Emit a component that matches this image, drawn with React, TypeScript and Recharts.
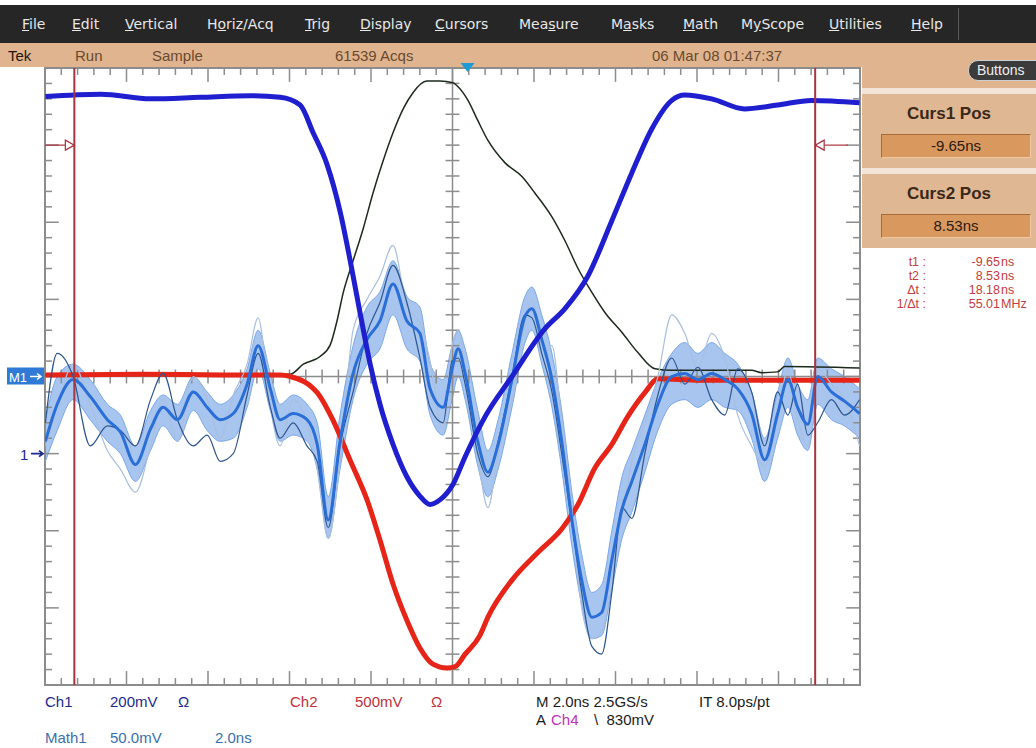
import React from 'react';
import {
  ComposedChart,
  Line,
  Area,
  XAxis,
  YAxis,
  CartesianGrid,
  ReferenceLine,
  ReferenceArea,
  ReferenceDot,
} from 'recharts';

// horizontal: 2 ns/div over 10 div, vertical: 8 div
const T_START = -10.37;
const T_END = 9.63;
const NS_PER_DIV = 2;
const DIVS_Y = 4;

const ch1Scale = 200; // mV/div
const ch1Pos = -1; // div
const ch2Scale = 500;
const ch2Pos = 0;
const mathScale = 50;
const mathPos = 0;

const cursor1 = -9.65;
const cursor2 = 8.53;
const triggerTime = 0;
const cursorMarkLevel = 3; // div

// Ch1 (blue)
const ch1Time = [-10.36, -9.0, -7.78, -6.56, -5.33, -4.6, -4.11, -3.79, -3.45, -3.12, -2.88, -2.64, -2.39, -2.15, -1.83, -1.49, -1.17, -0.92, -0.68, -0.36, -0.06, 0.43, 1.09, 1.9, 2.39, 2.95, 3.54, 4.03, 4.52, 5.01, 5.33, 5.99, 6.8, 7.61, 8.44, 9.62];
const ch1mV = [926, 932, 920, 924, 928, 924, 904, 832, 750, 624, 500, 366, 232, 128, 24, -60, -110, -132, -120, -80, -8, 96, 200, 324, 376, 460, 604, 728, 842, 916, 930, 920, 894, 904, 916, 910];

// Ch2 (red)
const ch2Time = [-10.36, -8.0, -6.0, -4.6, -4.35, -3.69, -3.3, -2.88, -2.46, -2.15, -1.83, -1.49, -1.17, -0.85, -0.51, -0.3, -0.06, 0.3, 0.5, 1.09, 1.73, 2.32, 2.71, 3.12, 3.54, 3.93, 4.35, 4.67, 5.7, 7.5, 9.62];
const ch2mV = [10, 15, 10, 10, 0, -105, -285, -545, -805, -1060, -1345, -1580, -1760, -1865, -1890, -1880, -1800, -1680, -1560, -1320, -1140, -985, -830, -595, -440, -260, -105, -15, -25, -25, -25];

// reference trace (black), in divisions
const refTime = [-10.36, -6.56, -4.35, -4.03, -3.62, -3.37, -3.2, -3.05, -2.81, -2.56, -2.32, -2.07, -1.83, -1.58, -1.34, -1.0, -0.68, -0.36, -0.24, 0.01, 0.25, 0.5, 0.92, 1.34, 1.65, 2.07, 2.39, 2.71, 3.05, 3.37, 3.79, 4.18, 4.6, 5.01, 6.97, 7.22, 7.61, 7.78, 9.62];
const refDiv = [0.02, 0.02, 0.03, 0.16, 0.26, 0.41, 0.73, 1.09, 1.5, 1.92, 2.38, 2.8, 3.16, 3.47, 3.68, 3.83, 3.83, 3.81, 3.76, 3.58, 3.32, 3.06, 2.77, 2.59, 2.38, 2.07, 1.76, 1.4, 1.09, 0.83, 0.57, 0.31, 0.1, 0.08, 0.08, 0.05, 0.06, 0.13, 0.11];

// Math1 persistence (mV)
const mathTime = [-10.36, -10.07, -9.68, -9.26, -8.84, -8.52, -8.15, -7.78, -7.47, -7.12, -6.73, -6.39, -6.07, -5.75, -5.41, -5.14, -4.84, -4.6, -4.28, -3.94, -3.69, -3.42, -3.13, -2.81, -2.47, -2.15, -1.83, -1.49, -1.17, -0.92, -0.6, -0.38, -0.23, -0.06, 0.25, 0.5, 0.75, 1.09, 1.41, 1.58, 1.82, 2.07, 2.31, 2.56, 2.8, 3.05, 3.29, 3.54, 3.79, 4.03, 4.35, 4.67, 5.01, 5.33, 5.65, 5.99, 6.31, 6.63, 6.97, 7.29, 7.61, 7.86, 8.1, 8.35, 8.59, 8.93, 9.25, 9.62];
const mathCore = [-42, -18, -2, -13, -28, -36, -57, -34, -20, -28, -10, -20, -28, -24, -5, 20, -8, -28, -24, -28, -44, -93, -42, 2, 24, 36, 60, 36, 28, -8, -20, 5, 18, 2, -42, -62, -44, -2, 39, 44, 24, -2, -42, -93, -132, -156, -153, -119, -86, -68, -44, -18, 0, 2, -2, 2, -2, -8, -24, -54, -24, -2, -20, -31, 0, -10, -16, -24];
const mathLo = [-55, -35, -15, -28, -42, -50, -68, -48, -32, -42, -22, -35, -42, -40, -20, 5, -22, -42, -38, -42, -60, -105, -60, -15, 8, 18, 40, 18, 10, -25, -38, -15, 0, -15, -58, -78, -60, -20, 22, 30, 8, -20, -60, -110, -148, -170, -168, -138, -105, -88, -62, -35, -18, -15, -20, -15, -20, -22, -40, -68, -40, -20, -38, -48, -18, -28, -32, -40];
const mathHi = [-28, 0, 8, -2, -18, -25, -45, -22, -12, -18, 0, -10, -18, -12, 5, 30, 2, -18, -12, -18, -30, -78, -25, 20, 45, 55, 75, 52, 45, 8, -2, 20, 30, 18, -22, -48, -28, 15, 52, 58, 40, 15, -22, -75, -115, -140, -135, -100, -65, -48, -25, -2, 15, 22, 15, 22, 15, 8, -10, -40, -10, 12, -5, -15, 12, 5, 0, -8];
const mathDark = [-30, 15, 0, -45, -32, -35, -45, -15, 2, -28, -45, -38, -55, -50, -12, 15, -20, -40, -30, -45, -55, -98, -45, -10, 28, 48, 72, 48, 12, -20, -30, 10, 12, -5, -50, -65, -42, 0, 40, 38, 15, -10, -50, -95, -140, -175, -180, -140, -85, -92, -50, -12, 12, -5, 6, -15, -25, 5, -10, -45, -10, -25, -5, -38, -30, -15, -25, -15];
const mathLight = [-45, -20, 8, -18, -48, -60, -75, -45, -15, -42, 0, -15, -40, -12, 8, 38, -20, -45, -15, -30, -60, -105, -55, 30, 50, 65, 85, 45, 35, 10, -35, 20, 30, 5, -52, -85, -50, -15, 35, 50, 12, 20, -30, -85, -150, -170, -165, -130, -90, -55, -30, 0, 40, 28, 5, 28, 12, -25, -45, -58, -28, 5, -28, -45, 5, -5, -15, -45];

const toDiv = (mv: number, scale: number, pos: number) => mv / scale + pos;

const ch1Rows = ch1Time.map((t, i) => ({ t, v: toDiv(ch1mV[i], ch1Scale, ch1Pos) }));
const ch2Rows = ch2Time.map((t, i) => ({ t, v: toDiv(ch2mV[i], ch2Scale, ch2Pos) }));
const refRows = refTime.map((t, i) => ({ t, v: refDiv[i] }));
const mathRows = mathTime.map((t, i) => ({
  t,
  core: toDiv(mathCore[i], mathScale, mathPos),
  band: [toDiv(mathLo[i], mathScale, mathPos), toDiv(mathHi[i], mathScale, mathPos)],
  dark: toDiv(mathDark[i], mathScale, mathPos),
  light: toDiv(mathLight[i], mathScale, mathPos),
}));

// graticule
const T_MID = (T_START + T_END) / 2;
const divX = Array.from({ length: 11 }, (_, i) => T_START + i * NS_PER_DIV);
const divY = Array.from({ length: 2 * DIVS_Y + 1 }, (_, i) => -DIVS_Y + i);
const minorX = Array.from({ length: 51 }, (_, i) => T_START + (i * NS_PER_DIV) / 5);
const minorY = Array.from({ length: 41 }, (_, i) => -DIVS_Y + i / 5);

const GRID = '#8c8c8c';

const graticuleTicks: React.ReactElement[] = [];
minorX.forEach((t, i) => {
  const len = i % 5 === 0 ? 0.18 : 0.09;
  graticuleTicks.push(
    <ReferenceLine key={`tt${i}`} segment={[{ x: t, y: DIVS_Y }, { x: t, y: DIVS_Y - len }]} stroke={GRID} strokeWidth={1.5} ifOverflow="visible" />,
    <ReferenceLine key={`tb${i}`} segment={[{ x: t, y: -DIVS_Y }, { x: t, y: -DIVS_Y + len }]} stroke={GRID} strokeWidth={1.5} ifOverflow="visible" />,
    <ReferenceLine key={`tc${i}`} segment={[{ x: t, y: -0.09 }, { x: t, y: 0.09 }]} stroke={GRID} strokeWidth={1.5} ifOverflow="visible" />
  );
});
minorY.forEach((v, i) => {
  const len = i % 5 === 0 ? 0.34 : 0.17;
  graticuleTicks.push(
    <ReferenceLine key={`yl${i}`} segment={[{ x: T_START, y: v }, { x: T_START + len, y: v }]} stroke={GRID} strokeWidth={1.5} ifOverflow="visible" />,
    <ReferenceLine key={`yr${i}`} segment={[{ x: T_END, y: v }, { x: T_END - len, y: v }]} stroke={GRID} strokeWidth={1.5} ifOverflow="visible" />,
    <ReferenceLine key={`yc${i}`} segment={[{ x: T_MID - 0.17, y: v }, { x: T_MID + 0.17, y: v }]} stroke={GRID} strokeWidth={1.5} ifOverflow="visible" />
  );
});

const CURSOR = '#a8343e';

const TriggerMark = (p: any) => (
  <path d={`M${p.cx - 7},${p.cy - 5} L${p.cx + 7},${p.cy - 5} L${p.cx},${p.cy + 4} Z`} fill="#1e9bd7" />
);
const RightArrow = (p: any) => (
  <path d={`M${p.cx - 9},${p.cy - 5} L${p.cx},${p.cy} L${p.cx - 9},${p.cy + 5} Z`} fill="#fff" stroke={CURSOR} strokeWidth={1.2} />
);
const LeftArrow = (p: any) => (
  <path d={`M${p.cx + 9},${p.cy - 5} L${p.cx},${p.cy} L${p.cx + 9},${p.cy + 5} Z`} fill="#fff" stroke={CURSOR} strokeWidth={1.2} />
);
const MathMark = (p: any) => (
  <g>
    <rect x={p.cx - 38} y={p.cy - 9} width={37} height={17} fill="#2f7ad6" />
    <text x={p.cx - 36} y={p.cy + 5} fill="#fff" fontSize={13} fontFamily="'Liberation Sans', Arial, sans-serif">M1</text>
    <path d={`M${p.cx - 15},${p.cy} L${p.cx - 4},${p.cy} M${p.cx - 8},${p.cy - 3} L${p.cx - 4},${p.cy} L${p.cx - 8},${p.cy + 3}`} stroke="#fff" strokeWidth={1.5} fill="none" />
  </g>
);
const Ch1Mark = (p: any) => (
  <g>
    <text x={p.cx - 25} y={p.cy + 6} fill="#1c2a8c" fontSize={15} fontFamily="'Liberation Sans', Arial, sans-serif">1</text>
    <path d={`M${p.cx - 14},${p.cy} L${p.cx - 2},${p.cy} M${p.cx - 6},${p.cy - 3} L${p.cx - 2},${p.cy} L${p.cx - 6},${p.cy + 3}`} stroke="#1c2a8c" strokeWidth={1.8} fill="none" />
  </g>
);

const menuItems = [
  { label: 'File', u: 0, x: 22 },
  { label: 'Edit', u: 0, x: 72 },
  { label: 'Vertical', u: 0, x: 125 },
  { label: 'Horiz/Acq', u: 1, x: 207 },
  { label: 'Trig', u: 0, x: 305 },
  { label: 'Display', u: 0, x: 360 },
  { label: 'Cursors', u: 0, x: 435 },
  { label: 'Measure', u: 3, x: 519 },
  { label: 'Masks', u: 1, x: 611 },
  { label: 'Math', u: 0, x: 683 },
  { label: 'MyScope', u: 1, x: 741 },
  { label: 'Utilities', u: 0, x: 829 },
  { label: 'Help', u: 0, x: 911 },
];

const statusItems = [
  { text: 'Tek', x: 8, color: '#1e140c' },
  { text: 'Run', x: 75, color: '#6a4a2e' },
  { text: 'Sample', x: 152, color: '#6a4a2e' },
  { text: '61539 Acqs', x: 335, color: '#6a4a2e' },
  { text: '06 Mar 08 01:47:37', x: 652, color: '#6a4a2e' },
];

const readouts = [
  { label: 't1', num: '-9.65', unit: 'ns' },
  { label: 't2', num: '8.53', unit: 'ns' },
  { label: 'Δt', num: '18.18', unit: 'ns' },
  { label: '1/Δt', num: '55.01', unit: 'MHz' },
];

const bottomLabels = [
  { text: 'Ch1', x: 45, y: 693, color: '#1c2a8c' },
  { text: '200mV', x: 110, y: 693, color: '#1c2a8c' },
  { text: 'Ω', x: 178, y: 693, color: '#1c2a8c' },
  { text: 'Ch2', x: 290, y: 693, color: '#c0303a' },
  { text: '500mV', x: 355, y: 693, color: '#c0303a' },
  { text: 'Ω', x: 431, y: 693, color: '#c0303a' },
  { text: 'M 2.0ns 2.5GS/s', x: 536, y: 693, color: '#1a1a1a' },
  { text: 'IT 8.0ps/pt', x: 699, y: 693, color: '#1a1a1a' },
  { text: 'A', x: 536, y: 711, color: '#1a1a1a' },
  { text: 'Ch4', x: 551, y: 711, color: '#c030c0' },
  { text: '\\  830mV', x: 594, y: 711, color: '#1a1a1a' },
  { text: 'Math1', x: 45, y: 729, color: '#3a6fb0' },
  { text: '50.0mV', x: 110, y: 729, color: '#3a6fb0' },
  { text: '2.0ns', x: 215, y: 729, color: '#3a6fb0' },
];

const menuFont = "'DejaVu Sans', 'Liberation Sans', sans-serif";
const panelFont = "'Liberation Sans', Arial, sans-serif";

function CursorBox({ top, title, value }: { top: number; title: string; value: string }) {
  return (
    <div style={{ position: 'absolute', left: 862, top, width: 174, height: 74, background: '#e0b793' }}>
      <div style={{ position: 'absolute', left: 0, top: 10, width: 174, textAlign: 'center', fontWeight: 'bold', fontSize: 17, color: '#3a2818' }}>
        {title}
      </div>
      <div
        style={{
          position: 'absolute', left: 19, top: 40, width: 148, height: 22, background: '#d9985e',
          borderTop: '1px solid #a86a38', borderLeft: '1px solid #a86a38',
          borderBottom: '1px solid #f0c8a0', borderRight: '1px solid #f0c8a0',
          textAlign: 'center', lineHeight: '22px', fontSize: 15, color: '#2a1a10',
        }}
      >
        {value}
      </div>
    </div>
  );
}

export default function App() {
  return (
    <div style={{ position: 'absolute', left: 0, top: 0, width: 1036, height: 748, background: '#fff', overflow: 'hidden', fontFamily: panelFont }}>
      {/* menu bar */}
      <div style={{ position: 'absolute', left: 0, top: 5, width: 1036, height: 38, background: '#262626' }}>
        {menuItems.map((m) => (
          <span key={m.label} style={{ position: 'absolute', left: m.x, top: 0, lineHeight: '38px', fontSize: 14, color: '#e8e8e8', fontFamily: menuFont }}>
            {m.label.slice(0, m.u)}
            <u>{m.label[m.u]}</u>
            {m.label.slice(m.u + 1)}
          </span>
        ))}
        <div style={{ position: 'absolute', left: 958, top: 3, width: 1, height: 32, background: '#5a5a5a' }} />
      </div>
      {/* status bar */}
      <div style={{ position: 'absolute', left: 0, top: 43, width: 1036, height: 24, background: '#e0b48e' }}>
        {statusItems.map((s) => (
          <span key={s.text} style={{ position: 'absolute', left: s.x, top: 0, lineHeight: '26px', fontSize: 15, color: s.color }}>
            {s.text}
          </span>
        ))}
      </div>
      {/* right panel */}
      <div style={{ position: 'absolute', left: 862, top: 67, width: 174, height: 21, background: '#e0b48e' }} />
      <div style={{ position: 'absolute', left: 862, top: 88, width: 174, height: 6, background: '#f2e4d6' }} />
      <div
        style={{
          position: 'absolute', left: 968, top: 60, width: 80, height: 19, borderRadius: 10, background: '#3b3b3b',
          border: '1px solid #cfcfcf', color: '#f0f0f0', fontSize: 14, lineHeight: '19px', paddingLeft: 8,
        }}
      >
        Buttons
      </div>
      <CursorBox top={94} title="Curs1 Pos" value="-9.65ns" />
      <div style={{ position: 'absolute', left: 862, top: 168, width: 174, height: 6, background: '#f2e4d6' }} />
      <CursorBox top={174} title="Curs2 Pos" value="8.53ns" />
      {readouts.map((r, i) => (
        <div key={r.label} style={{ position: 'absolute', left: 862, top: 255 + i * 14, width: 174, height: 14, fontSize: 12.5, lineHeight: '14px', color: '#c63c3c', whiteSpace: 'pre' }}>
          <span style={{ position: 'absolute', right: 110, textAlign: 'right' }}>{`${r.label} :`}</span>
          <span style={{ position: 'absolute', left: 92, width: 46, textAlign: 'right' }}>{r.num}</span>
          <span style={{ position: 'absolute', left: 139 }}>{r.unit}</span>
        </div>
      ))}
      {/* bottom readout */}
      {bottomLabels.map((b, i) => (
        <span key={i} style={{ position: 'absolute', left: b.x, top: b.y, fontSize: 15, color: b.color, whiteSpace: 'pre' }}>
          {b.text}
        </span>
      ))}

      <div style={{ position: 'absolute', left: 0, top: 0 }}>
        <ComposedChart width={870} height={700} data={mathRows} margin={{ top: 68, right: 10, bottom: 15, left: 45 }} style={{ overflow: 'visible' }}>
          <XAxis dataKey="t" type="number" domain={[T_START, T_END]} ticks={divX} allowDataOverflow height={0} tick={false} tickLine={false} axisLine={false} />
          <YAxis type="number" domain={[-DIVS_Y, DIVS_Y]} ticks={divY} allowDataOverflow width={0} tick={false} tickLine={false} axisLine={false} />
          <CartesianGrid vertical={false} stroke="#9a9a9a" strokeWidth={1.5} strokeDasharray="1.5 14.8" />
          <CartesianGrid horizontal={false} stroke="#9a9a9a" strokeWidth={1.5} strokeDasharray="1.5 13.9" />
          <ReferenceArea x1={T_START} x2={T_END} y1={-DIVS_Y} y2={DIVS_Y} fill="none" stroke={GRID} strokeWidth={2} ifOverflow="visible" />
          <ReferenceLine x={T_MID} stroke={GRID} strokeWidth={1.5} />
          <ReferenceLine y={0} stroke={GRID} strokeWidth={1.5} />
          {graticuleTicks}

          <Line data={refRows} dataKey="v" type="monotone" stroke="#1c2a1c" strokeWidth={1.5} dot={false} isAnimationActive={false} />
          <Line data={ch2Rows} dataKey="v" type="monotone" stroke="#e62418" strokeWidth={5} dot={false} isAnimationActive={false} />
          <Area dataKey="band" type="monotone" stroke="#7aa8e8" strokeWidth={1} fill="#6c9fe4" fillOpacity={0.6} isAnimationActive={false} />
          <Line dataKey="light" type="monotone" stroke="#a9bfdf" strokeWidth={1.2} dot={false} isAnimationActive={false} />
          <Line dataKey="dark" type="monotone" stroke="#2d5590" strokeWidth={1.2} dot={false} isAnimationActive={false} />
          <Line dataKey="core" type="monotone" stroke="#2a6ed8" strokeWidth={3} dot={false} isAnimationActive={false} />
          <Line data={ch1Rows} dataKey="v" type="monotone" stroke="#1f1fd0" strokeWidth={5} dot={false} isAnimationActive={false} />

          <ReferenceLine x={cursor1} stroke={CURSOR} strokeWidth={2} />
          <ReferenceLine x={cursor2} stroke={CURSOR} strokeWidth={2} />
          <ReferenceLine segment={[{ x: T_START, y: cursorMarkLevel }, { x: cursor1 - 0.2, y: cursorMarkLevel }]} stroke={CURSOR} strokeWidth={1.2} ifOverflow="visible" />
          <ReferenceLine segment={[{ x: cursor2 + 0.2, y: cursorMarkLevel }, { x: cursor2 + 0.8, y: cursorMarkLevel }]} stroke={CURSOR} strokeWidth={1.2} ifOverflow="visible" />
          <ReferenceDot x={cursor1} y={cursorMarkLevel} shape={RightArrow} ifOverflow="visible" />
          <ReferenceDot x={cursor2} y={cursorMarkLevel} shape={LeftArrow} ifOverflow="visible" />
          <ReferenceDot x={triggerTime} y={DIVS_Y} shape={TriggerMark} ifOverflow="visible" />
          <ReferenceDot x={T_START} y={mathPos} shape={MathMark} ifOverflow="visible" />
          <ReferenceDot x={T_START} y={ch1Pos} shape={Ch1Mark} ifOverflow="visible" />
        </ComposedChart>
      </div>
    </div>
  );
}
